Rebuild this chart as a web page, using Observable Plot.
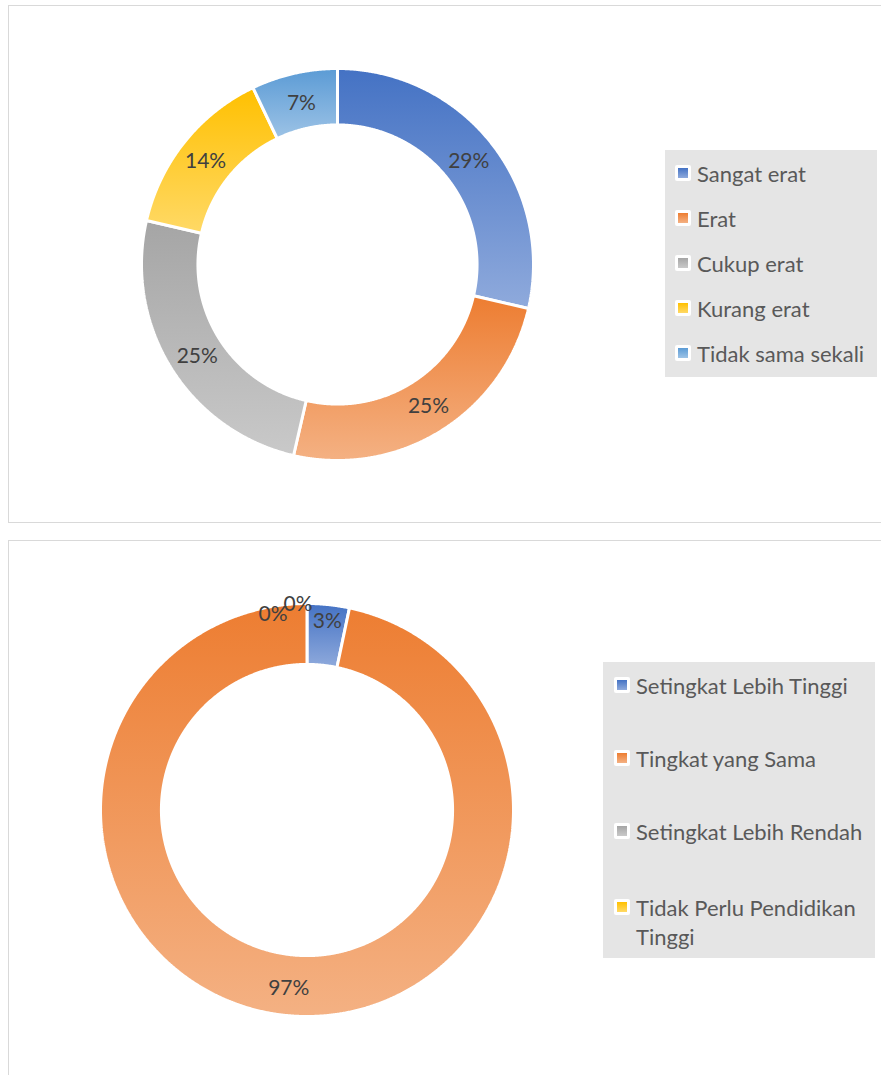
<!DOCTYPE html>
<html><head><meta charset="utf-8">
<script src="https://cdn.jsdelivr.net/npm/d3@7"></script>
<script src="https://cdn.jsdelivr.net/npm/@observablehq/plot@0.6"></script>
<style>
html,body{margin:0;padding:0;background:#fff;}
body{width:881px;height:1075px;position:relative;overflow:hidden;font-family:Lato,"Open Sans",sans-serif;}
.frame{position:absolute;border:1.5px solid #d9d9d9;box-sizing:border-box;background:#fff;}
.chart{position:absolute;}
.legend{position:absolute;background:#e5e5e5;}
.item{position:absolute;left:0;color:#595959;font-size:22px;line-height:29px;white-space:nowrap;}
.sw{position:absolute;width:16px;height:16px;background:#fff;border-radius:2px;}
.sw i{position:absolute;left:3px;top:3px;width:10px;height:10px;}
</style></head><body>
<div class="frame" style="left:7.5px;top:5px;width:900px;height:518px"></div>
<div class="frame" style="left:7.5px;top:539.5px;width:900px;height:600px"></div>
<div id="chartA" class="chart"></div>
<div id="chartB" class="chart"></div>
<div id="legA" class="legend"></div>
<div id="legB" class="legend"></div>
<script>
// ---- data ----
const catsA = ["Sangat erat", "Erat", "Cukup erat", "Kurang erat", "Tidak sama sekali"];
const valsA = [28.6, 25, 25, 14.3, 7.1];
const labelsA = ["29%", "25%", "25%", "14%", "7%"];

const catsB = ["Setingkat Lebih Tinggi", "Tingkat yang Sama", "Setingkat Lebih Rendah", "Tidak Perlu Pendidikan Tinggi"];
const valsB = [3.3, 96.7, 0, 0];
const labelsB = ["3%", "97%", "0%", "0%"];

// ---- styles ----
const paletteA = [["#4472C4", "#8FAADC"], ["#ED7D31", "#F4B183"], ["#A5A5A5", "#C9C9C9"], ["#FFC000", "#FFD966"], ["#5B9BD5", "#9DC3E6"]];
const paletteB = [["#4472C4", "#8FAADC"], ["#ED7D31", "#F4B183"], ["#A5A5A5", "#C9C9C9"], ["#FFC000", "#FFD966"]];

function donut({el, id, cats, vals, labels, palette, R, hole, cx, cy, labelOffsets}) {
  const pad = 34;
  const pie = d3.pie().sort(null).value(d => d)(vals);
  const rows = [];
  pie.forEach((p, i) => {
    if (p.endAngle - p.startAngle <= 0) return;
    const n = Math.max(2, Math.ceil((p.endAngle - p.startAngle) / 0.005));
    const pts = [];
    for (let k = 0; k <= n; k++) { const a = p.startAngle + (p.endAngle - p.startAngle) * k / n; pts.push([Math.sin(a), Math.cos(a)]); }
    for (let k = n; k >= 0; k--) { const a = p.startAngle + (p.endAngle - p.startAngle) * k / n; pts.push([hole * Math.sin(a), hole * Math.cos(a)]); }
    pts.push(pts[0]);
    pts.forEach(([x, y]) => rows.push({slice: cats[i], x, y, fill: `url(#${id}${i})`}));
  });
  const rm = (1 + hole) / 2;
  const labs = pie.map((p, i) => {
    const a = (p.startAngle + p.endAngle) / 2;
    return {slice: cats[i], i, x: rm * Math.sin(a), y: rm * Math.cos(a), text: labels[i]};
  });
  const textMarks = labs.map((d, i) => Plot.text([d], {
    x: "x", y: "y", text: "text", fill: "#404040", fontSize: 21, fontFamily: "Lato",
    dx: (labelOffsets[i] || [0, 0])[0], dy: (labelOffsets[i] || [0, 0])[1]
  }));
  const svg = Plot.plot({
    width: 2 * R + 2 * pad, height: 2 * R + 2 * pad, margin: pad,
    x: {domain: [-1, 1], axis: null}, y: {domain: [-1, 1], axis: null},
    color: {type: "identity"},
    style: {background: "transparent", overflow: "visible"},
    marks: [
      Plot.line(rows, {x: "x", y: "y", z: "slice", fill: "fill", stroke: "white", strokeWidth: 3, curve: "linear", strokeLinejoin: "miter"}),
      ...textMarks
    ]
  });
  const ns = "http://www.w3.org/2000/svg";
  const defs = document.createElementNS(ns, "defs");
  palette.forEach((c, i) => {
    const g = document.createElementNS(ns, "linearGradient");
    g.setAttribute("id", id + i); g.setAttribute("x1", 0); g.setAttribute("y1", 0); g.setAttribute("x2", 0); g.setAttribute("y2", 1);
    [[0, c[0]], [1, c[1]]].forEach(([o, col]) => {
      const s = document.createElementNS(ns, "stop"); s.setAttribute("offset", o); s.setAttribute("stop-color", col); g.appendChild(s);
    });
    defs.appendChild(g);
  });
  svg.insertBefore(defs, svg.firstChild);
  const node = document.getElementById(el);
  node.style.left = (cx - R - pad) + "px";
  node.style.top = (cy - R - pad) + "px";
  node.appendChild(svg);
}

donut({el: "chartA", id: "gA", cats: catsA, vals: valsA, labels: labelsA, palette: paletteA,
  R: 196, hole: 0.712, cx: 337, cy: 264, labelOffsets: [[0, 1], [2, 0], [2, 3], [-1, 2], [1, 2]]});
donut({el: "chartB", id: "gB", cats: catsB, vals: valsB, labels: labelsB, palette: paletteB,
  R: 206.5, hole: 0.705, cx: 306, cy: 809.5, labelOffsets: [[2, -14], [0, 3], [-9, -30], [-34, -20]]});

function legend(el, cats, palette, box, ys, textLeft) {
  const node = document.getElementById(el);
  Object.assign(node.style, {left: box[0] + "px", top: box[1] + "px", width: box[2] + "px", height: box[3] + "px"});
  cats.forEach((c, i) => {
    const sw = document.createElement("div");
    sw.className = "sw";
    sw.style.left = (textLeft - 22) + "px";
    sw.style.top = (ys[i] - 8) + "px";
    const inner = document.createElement("i");
    inner.style.background = `linear-gradient(${palette[i][0]}, ${palette[i][1]})`;
    sw.appendChild(inner);
    node.appendChild(sw);
    const t = document.createElement("div");
    t.className = "item";
    t.style.left = textLeft + "px";
    t.style.top = (ys[i] - 14.5) + "px";
    t.style.width = (box[2] - textLeft - 4) + "px";
    t.style.whiteSpace = "normal";
    t.textContent = c;
    node.appendChild(t);
  });
}
legend("legA", catsA, paletteA, [665, 150, 212, 227], [23, 68, 113, 158, 203], 32);
legend("legB", catsB, paletteB, [603, 662, 272, 296], [23, 96, 169, 245], 33);
</script>
</body></html>
